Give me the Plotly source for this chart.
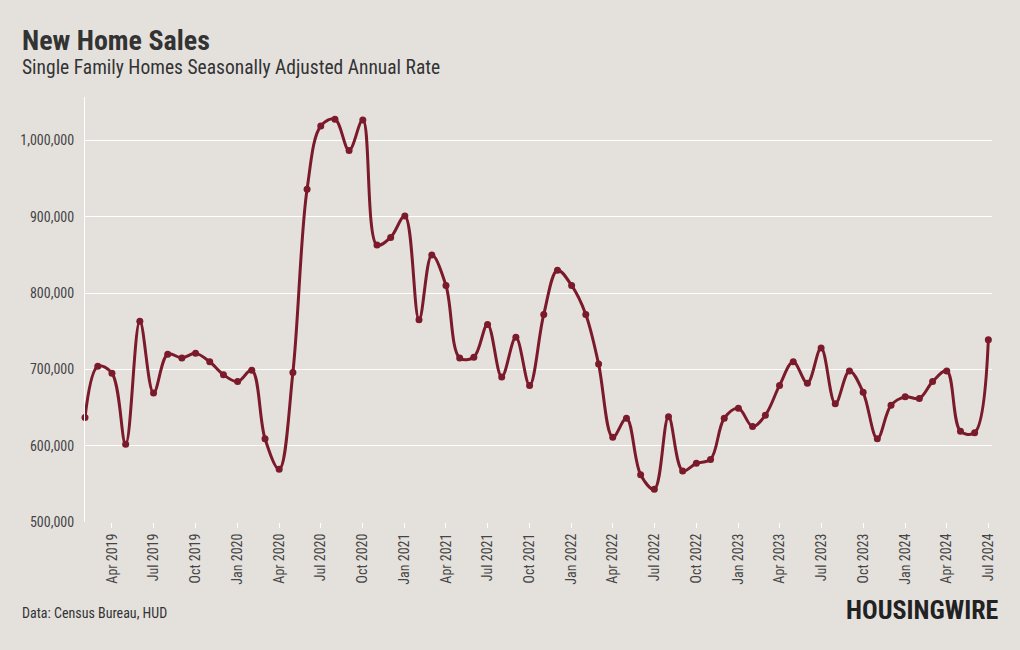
import plotly.graph_objects as go

months = [
    "2019-02-01", "2019-03-01", "2019-04-01", "2019-05-01", "2019-06-01", "2019-07-01",
    "2019-08-01", "2019-09-01", "2019-10-01", "2019-11-01", "2019-12-01",
    "2020-01-01", "2020-02-01", "2020-03-01", "2020-04-01", "2020-05-01", "2020-06-01",
    "2020-07-01", "2020-08-01", "2020-09-01", "2020-10-01", "2020-11-01", "2020-12-01",
    "2021-01-01", "2021-02-01", "2021-03-01", "2021-04-01", "2021-05-01", "2021-06-01",
    "2021-07-01", "2021-08-01", "2021-09-01", "2021-10-01", "2021-11-01", "2021-12-01",
    "2022-01-01", "2022-02-01", "2022-03-01", "2022-04-01", "2022-05-01", "2022-06-01",
    "2022-07-01", "2022-08-01", "2022-09-01", "2022-10-01", "2022-11-01", "2022-12-01",
    "2023-01-01", "2023-02-01", "2023-03-01", "2023-04-01", "2023-05-01", "2023-06-01",
    "2023-07-01", "2023-08-01", "2023-09-01", "2023-10-01", "2023-11-01", "2023-12-01",
    "2024-01-01", "2024-02-01", "2024-03-01", "2024-04-01", "2024-05-01", "2024-06-01",
    "2024-07-01",
]

sales = [
    637000, 704000, 695000, 602000, 763000, 669000,
    720000, 715000, 721000, 710000, 693000,
    684000, 699000, 609000, 569000, 696000, 936000,
    1019000, 1028000, 987000, 1027000, 863000, 873000,
    901000, 765000, 850000, 810000, 715000, 716000,
    759000, 690000, 742000, 679000, 772000, 830000,
    810000, 772000, 707000, 611000, 636000, 562000,
    543000, 638000, 567000, 577000, 582000, 636000,
    649000, 625000, 640000, 679000, 710000, 682000,
    728000, 655000, 698000, 670000, 609000, 653000,
    664000, 662000, 684000, 698000, 619000, 617000,
    739000,
]

title_text = "New Home Sales"
subtitle_text = "Single Family Homes Seasonally Adjusted Annual Rate"
source_text = "Data: Census Bureau, HUD"
logo_text = "HOUSINGWIRE"

BG = "#e4e1dd"
LINE = "#7a1a2b"
FONT = "Roboto Condensed, Liberation Sans Narrow, DejaVu Sans Condensed, Roboto, sans-serif"

fig = go.Figure()
fig.add_trace(go.Scatter(
    x=months, y=sales, mode="lines+markers",
    line=dict(color=LINE, width=3, shape="spline", smoothing=1.0),
    marker=dict(color=LINE, size=7),
    cliponaxis=False,
    hoverinfo="x+y",
))

fig.update_layout(
    width=1020, height=650,
    paper_bgcolor=BG, plot_bgcolor=BG,
    margin=dict(l=85, r=28, t=97, b=128),
    showlegend=False,
    font=dict(family=FONT, color="#444444", size=14),
    xaxis=dict(
        range=["2019-02-01", "2024-07-09"],
        tick0="2019-04-01", dtick="M3", tickformat="%b %Y",
        tickangle=-90, ticks="outside", ticklen=5, tickcolor="#ffffff",
        showgrid=False, zeroline=False, showline=False,
        tickfont=dict(size=14, color="#444444"),
    ),
    yaxis=dict(
        range=[500000, 1057000],
        tick0=500000, dtick=100000, tickformat=",",
        showgrid=True, gridcolor="#ffffff", gridwidth=1,
        zeroline=False, showline=True, linecolor="#ffffff", linewidth=1,
        ticks="", ticklabelstandoff=7,
        tickfont=dict(size=14, color="#444444"),
    ),
    annotations=[
        dict(text="<b>" + title_text + "</b>", x=20, y=22,
             xanchor="left", yanchor="top", showarrow=False,
             font=dict(size=28, color="#333333", family=FONT)),
        dict(text=subtitle_text, x=20, y=54, xanchor="left", yanchor="top", showarrow=False,
             font=dict(size=19.5, color="#333333", family=FONT)),
        dict(text=source_text, x=20, y=613, xanchor="left", yanchor="middle", showarrow=False,
             font=dict(size=14, color="#333333", family=FONT)),
        dict(text="<b>" + logo_text + "</b>", x=1001, y=610, xanchor="right", yanchor="middle",
             showarrow=False, font=dict(size=26, color="#222222", family=FONT, weight=900)),
    ],
)

# place annotations in pixel coordinates via paper mapping
pw = 1020 - 85 - 28
ph = 650 - 97 - 128
for a in fig.layout.annotations:
    px, py = a.x, a.y
    a.x = (px - 85) / pw
    a.y = 1 - (py - 97) / ph
    a.xref = "paper"
    a.yref = "paper"

fig.write_html("out.html", config={"displayModeBar": False})

with open("out.html", "r", encoding="utf-8") as f:
    html = f.read()
html = html.replace("<head>", "<head><style>html,body{margin:0;padding:0;}</style>", 1)
with open("out.html", "w", encoding="utf-8") as f:
    f.write(html)
